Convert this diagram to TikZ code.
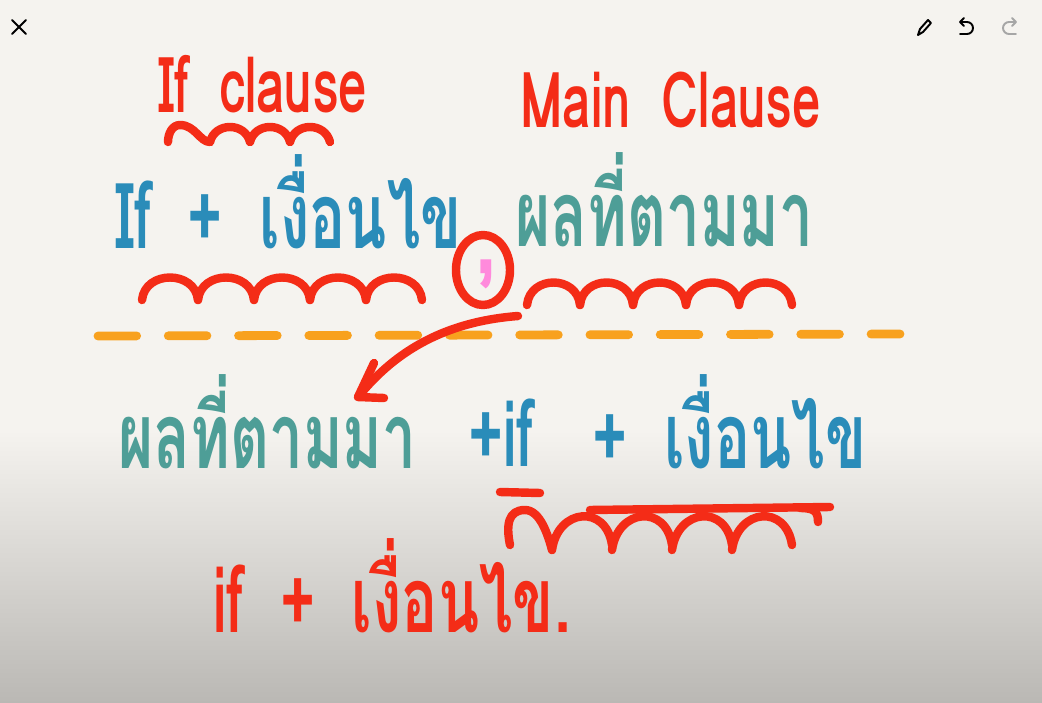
\documentclass[tikz,border=0pt]{standalone}
\usepackage{fontspec}
\newfontfamily\thaifont[Script=Thai, FakeStretch=0.66, WordSpace=1.8]{Loma}
\usetikzlibrary{arrows.meta}
\definecolor{paper}{HTML}{F5F3EF}
\definecolor{paperdark}{HTML}{BAB8B4}
\definecolor{inkred}{HTML}{F42C17}
\definecolor{inkblue}{HTML}{2A8CB9}
\definecolor{inkteal}{HTML}{4E9E97}
\definecolor{inkorange}{HTML}{F8A11E}
\definecolor{inkpink}{HTML}{FF8ADC}

\begin{document}
\begin{tikzpicture}[
    x=0.02cm, y=-0.02cm,
    ink/.style={line width=4.8pt, line cap=round, line join=round},
    icon/.style={line width=1.1pt, line cap=round, line join=round},
    word/.style={inner sep=0pt, anchor=base west, font=\thaifont\bfseries\fontsize{52}{60}\selectfont},
    title/.style={word, text=inkred, font=\thaifont\bfseries\fontsize{44}{50}\selectfont}
]
% paper
\fill[paper] (0,0) rectangle (1042,703);
\shade[top color=paper, bottom color=paperdark] (0,430) rectangle (1042,703);
\useasboundingbox (0,0) rectangle (1042,703);

% toolbar
\draw[icon] (12,20) -- (26,34) (26,20) -- (12,34);
\draw[icon] (918,35) -- (920,29) -- (928,20) -- (931,23) -- (923,32) -- cycle;
\draw[icon] (964,18) -- (960,22) -- (964,26)
    (960,22) -- (967,22) arc[start angle=-90, end angle=90, radius=6] -- (960,34);
\draw[icon, black!35] (1012,18) -- (1016,22) -- (1012,26)
    (1016,22) -- (1009,22) arc[start angle=-90, end angle=-270, radius=6] -- (1016,34);

% titles
\node[title] (ifclause) at (158,112) {If clause};
\node[title] (mainclause) at (520,127) {Main Clause};
\draw[ink, inkred] (168,142) .. controls (168,134) and (172,125) .. (180,125)
    .. controls (195,125) and (200,142) .. (210,142);
\foreach \i in {0,1,2} {
  \draw[ink, inkred] (210+\i*40,142) .. controls (215+\i*40,122) and (245+\i*40,122) .. (250+\i*40,142);
}

% first sentence
\node[word, text=inkblue] (ifcond) at (115,248) {If + เงื่อนไข};
\node[word, text=inkpink, font=\thaifont\bfseries\fontsize{64}{70}\selectfont] (comma) at (476,272) {,};
\node[word, text=inkteal] (result) at (515,246) {ผลที่ตามมา};
\draw[ink, inkred] (483,270) ellipse[x radius=27, y radius=35];
\foreach \i in {0,...,4} {
  \draw[ink, inkred] (142+\i*56,300) .. controls (145+\i*56,270) and (195+\i*56,270) .. (198+\i*56,300);
}
\foreach \i in {0,...,4} {
  \draw[ink, inkred] (527+\i*53,305) .. controls (530+\i*53,275) and (577+\i*53,275) .. (580+\i*53,305);
}

% divider
\draw[line width=5pt, inkorange, line cap=round, dash pattern=on 22pt off 18pt] (98,336) -- (900,334);

% second sentence
\node[word, text=inkteal] (result2) at (118,468) {ผลที่ตามมา};
\node[word, text=inkblue] (plusif) at (468,466) {+if};
\node[word, text=inkblue] (cond2) at (592,468) {+ เงื่อนไข};
\coordinate (arrowfrom) at (518,316);
\coordinate (arrowto) at (358,397);
\draw[ink, inkred] (arrowfrom) .. controls (440,322) and (392,355) .. (arrowto);
\draw[ink, inkred] (arrowto) ++(16,-34) -- (arrowto) -- ++(26,1);
\draw[ink, inkred] (500,492) -- (540,493);
\draw[ink, inkred] (510,545) .. controls (506,525) and (508,510) .. (525,510)
    .. controls (540,510) and (548,535) .. (552,550);
\foreach \i in {0,...,3} {
  \draw[ink, inkred] (552+\i*60,550) .. controls (558+\i*60,508) and (606+\i*60,504) .. (612+\i*60,545);
}
\draw[ink, inkred] (590,510) -- (830,507);
\draw[ink, inkred] (800,508) .. controls (815,508) and (818,512) .. (818,522);

% answer
\node[word, text=inkred] (ifcond3) at (213,632) {if + เงื่อนไข.};
\end{tikzpicture}
\end{document}
